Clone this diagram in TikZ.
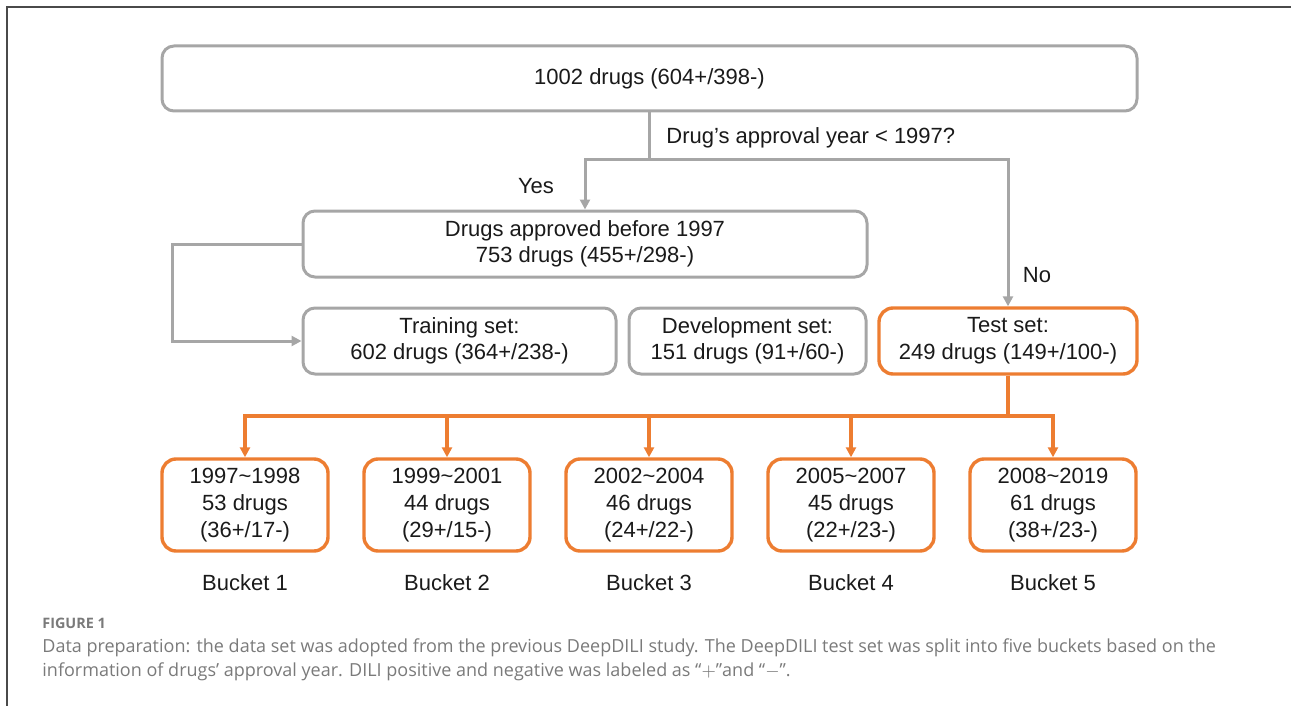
\documentclass[tikz,border=0pt]{standalone}
\usepackage{fontspec}
\setmainfont{Liberation Sans}
\newfontfamily\capfont{Open Sans}
\usetikzlibrary{arrows.meta}
\definecolor{boxgray}{HTML}{A6A6A6}
\definecolor{boxorange}{HTML}{ED7D31}
\definecolor{capgray}{HTML}{7A7A7A}
\definecolor{framegray}{HTML}{4A4A4A}
\definecolor{txt}{HTML}{1A1A1A}
\tikzset{
  gbox/.style={draw=boxgray, line width=1.5pt, rounded corners=6pt, align=center, text=txt,
    font=\fontsize{11}{13}\selectfont, inner sep=0pt},
  obox/.style={draw=boxorange, line width=1.7pt, rounded corners=7pt, align=center, text=txt,
    font=\fontsize{11}{13.5}\selectfont, inner sep=0pt, minimum width=83pt, minimum height=46pt},
  gline/.style={draw=boxgray, line width=1.5pt},
  garrow/.style={gline, -{Triangle[length=5pt,width=5pt]}},
  oline/.style={draw=boxorange, line width=1.7pt},
  oarrow/.style={oline, -{Triangle[length=5pt,width=5pt]}},
  lbl/.style={text=txt, font=\fontsize{11}{13}\selectfont, inner sep=0pt},
  captxt/.style={text=capgray, font=\capfont\fontsize{9}{11}\selectfont, inner sep=0pt, anchor=west}
}
\begin{document}
\begin{tikzpicture}[x=0.5pt,y=-0.5pt]
\useasboundingbox (0,0) rectangle (1291,706);
% frame
\draw[framegray, line width=1pt] (7,706) -- (7,7) -- (1291,7);
% boxes
\node[gbox, minimum width=487.5pt, minimum height=32.5pt] (top) at (649.5,78.5) {1002 drugs (604+/398-)};
\node[gbox, minimum width=282pt, minimum height=33pt] (mid) at (585,244) {Drugs approved before 1997\\753 drugs (455+/298-)};
\node[gbox, minimum width=156.5pt, minimum height=33pt] (train) at (459.5,341) {Training set:\\602 drugs (364+/238-)};
\node[gbox, minimum width=118.5pt, minimum height=33pt] (dev) at (747.5,341) {Development set:\\151 drugs (91+/60-)};
\node[obox, minimum width=129pt, minimum height=33pt] (test) at (1008,341) {Test set:\\249 drugs (149+/100-)};
% buckets
\node[obox] (b1) at (245,505) {1997\char`~1998\\53 drugs\\(36+/17-)};
\node[obox] (b2) at (447,505) {1999\char`~2001\\44 drugs\\(29+/15-)};
\node[obox] (b3) at (649,505) {2002\char`~2004\\46 drugs\\(24+/22-)};
\node[obox] (b4) at (851,505) {2005\char`~2007\\45 drugs\\(22+/23-)};
\node[obox] (b5) at (1053,505) {2008\char`~2019\\61 drugs\\(38+/23-)};
\node[lbl] (l1) at (245,583) {Bucket 1};
\node[lbl] (l2) at (447,583) {Bucket 2};
\node[lbl] (l3) at (649,583) {Bucket 3};
\node[lbl] (l4) at (851,583) {Bucket 4};
\node[lbl] (l5) at (1053,583) {Bucket 5};
% decision connectors
\coordinate (split) at (649,160);
\draw[gline] (top.south -| split) -- (split);
\draw[garrow] (split) -| (mid.north);
\draw[garrow] (split) -| (test.north);
\node[lbl, anchor=west] (q) at (666,138) {Drug’s approval year < 1997?};
\node[lbl] (yes) at (536,186) {Yes};
\node[lbl] (no) at (1037,275) {No};
% feedback
\coordinate (fb) at (172,244);
\draw[garrow] (mid.west) -- (fb) |- (train.west);
% orange tree
\coordinate (ob) at (1008,416);
\draw[oline] (test.south) -- (ob);
\foreach \b in {b1,b2,b3,b4,b5} {\draw[oarrow] (ob) -| (\b.north);}
% caption
\node[captxt, font=\capfont\bfseries\fontsize{7.2}{8}\selectfont] (fig) at (42,623) {FIGURE 1};
\node[captxt] (c1) at (42,648) {Data preparation: the data set was adopted from the previous DeepDILI study. The DeepDILI test set was split into five buckets based on the};
\node[captxt] (c2) at (42,672) {information of drugs’ approval year. DILI positive and negative was labeled as “$+$”and “$-$”.};
\end{tikzpicture}
\end{document}
